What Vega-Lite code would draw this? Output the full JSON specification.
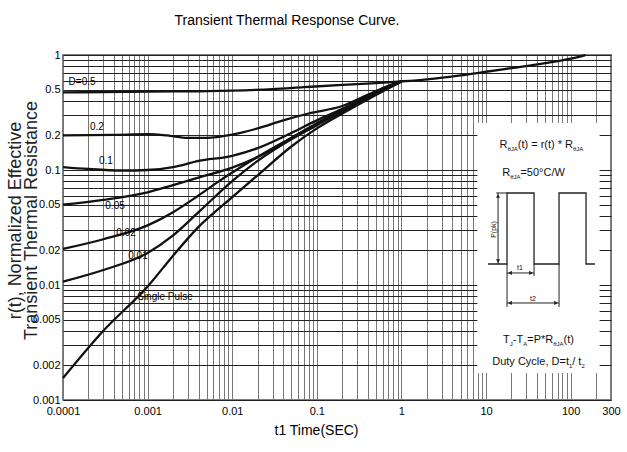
{
  "$schema": "https://vega.github.io/schema/vega-lite/v6.json",
  "width": 548,
  "height": 345,
  "autosize": "none",
  "padding": {"left": 63, "top": 55, "right": 16, "bottom": 52},
  "background": "white",
  "config": {
    "view": {"stroke": "#555", "strokeWidth": 1.5},
    "font": "Liberation Sans, Arial, sans-serif"
  },
  "title": {
    "text": "Transient Thermal Response Curve.",
    "font": "Liberation Sans, Arial, sans-serif",
    "fontSize": 14,
    "fontWeight": "normal",
    "color": "#000",
    "anchor": "middle",
    "dx": -50,
    "offset": 21
  },
  "datasets": {
    "curves": [
      {"c": "0.5", "x": 0.0001, "y": 0.473}, {"c": "0.5", "x": 0.0003, "y": 0.476}, {"c": "0.5", "x": 0.001, "y": 0.48}, {"c": "0.5", "x": 0.004, "y": 0.484}, {"c": "0.5", "x": 0.01, "y": 0.49}, {"c": "0.5", "x": 0.03, "y": 0.505}, {"c": "0.5", "x": 0.07, "y": 0.525}, {"c": "0.5", "x": 0.2, "y": 0.55}, {"c": "0.5", "x": 0.5, "y": 0.57}, {"c": "0.5", "x": 1, "y": 0.59}, {"c": "0.5", "x": 2, "y": 0.615}, {"c": "0.5", "x": 5, "y": 0.665}, {"c": "0.5", "x": 10, "y": 0.715}, {"c": "0.5", "x": 20, "y": 0.77}, {"c": "0.5", "x": 50, "y": 0.85}, {"c": "0.5", "x": 100, "y": 0.93}, {"c": "0.5", "x": 150, "y": 1.0},
      {"c": "0.2", "x": 0.0001, "y": 0.2}, {"c": "0.2", "x": 0.0004, "y": 0.202}, {"c": "0.2", "x": 0.001, "y": 0.205}, {"c": "0.2", "x": 0.0017, "y": 0.2}, {"c": "0.2", "x": 0.003, "y": 0.19}, {"c": "0.2", "x": 0.005, "y": 0.19}, {"c": "0.2", "x": 0.01, "y": 0.203}, {"c": "0.2", "x": 0.02, "y": 0.23}, {"c": "0.2", "x": 0.04, "y": 0.27}, {"c": "0.2", "x": 0.08, "y": 0.31}, {"c": "0.2", "x": 0.2, "y": 0.36}, {"c": "0.2", "x": 0.4, "y": 0.45}, {"c": "0.2", "x": 0.7, "y": 0.54}, {"c": "0.2", "x": 1, "y": 0.59},
      {"c": "0.1", "x": 0.0001, "y": 0.106}, {"c": "0.1", "x": 0.0002, "y": 0.102}, {"c": "0.1", "x": 0.0005, "y": 0.099}, {"c": "0.1", "x": 0.001, "y": 0.1}, {"c": "0.1", "x": 0.002, "y": 0.106}, {"c": "0.1", "x": 0.004, "y": 0.12}, {"c": "0.1", "x": 0.01, "y": 0.133}, {"c": "0.1", "x": 0.02, "y": 0.155}, {"c": "0.1", "x": 0.05, "y": 0.21}, {"c": "0.1", "x": 0.1, "y": 0.27}, {"c": "0.1", "x": 0.2, "y": 0.34}, {"c": "0.1", "x": 0.5, "y": 0.47}, {"c": "0.1", "x": 1, "y": 0.59},
      {"c": "0.05", "x": 0.0001, "y": 0.05}, {"c": "0.05", "x": 0.0003, "y": 0.055}, {"c": "0.05", "x": 0.001, "y": 0.064}, {"c": "0.05", "x": 0.002, "y": 0.074}, {"c": "0.05", "x": 0.004, "y": 0.086}, {"c": "0.05", "x": 0.01, "y": 0.105}, {"c": "0.05", "x": 0.02, "y": 0.13}, {"c": "0.05", "x": 0.05, "y": 0.19}, {"c": "0.05", "x": 0.1, "y": 0.255}, {"c": "0.05", "x": 0.2, "y": 0.33}, {"c": "0.05", "x": 0.5, "y": 0.465}, {"c": "0.05", "x": 1, "y": 0.59},
      {"c": "0.02", "x": 0.0001, "y": 0.0206}, {"c": "0.02", "x": 0.0003, "y": 0.025}, {"c": "0.02", "x": 0.001, "y": 0.033}, {"c": "0.02", "x": 0.002, "y": 0.043}, {"c": "0.02", "x": 0.004, "y": 0.06}, {"c": "0.02", "x": 0.007, "y": 0.08}, {"c": "0.02", "x": 0.01, "y": 0.095}, {"c": "0.02", "x": 0.02, "y": 0.13}, {"c": "0.02", "x": 0.05, "y": 0.19}, {"c": "0.02", "x": 0.1, "y": 0.25}, {"c": "0.02", "x": 0.2, "y": 0.325}, {"c": "0.02", "x": 0.5, "y": 0.46}, {"c": "0.02", "x": 1, "y": 0.59},
      {"c": "0.01", "x": 0.0001, "y": 0.0107}, {"c": "0.01", "x": 0.0003, "y": 0.0135}, {"c": "0.01", "x": 0.001, "y": 0.019}, {"c": "0.01", "x": 0.002, "y": 0.027}, {"c": "0.01", "x": 0.004, "y": 0.043}, {"c": "0.01", "x": 0.01, "y": 0.08}, {"c": "0.01", "x": 0.02, "y": 0.12}, {"c": "0.01", "x": 0.05, "y": 0.185}, {"c": "0.01", "x": 0.1, "y": 0.245}, {"c": "0.01", "x": 0.2, "y": 0.32}, {"c": "0.01", "x": 0.5, "y": 0.455}, {"c": "0.01", "x": 1, "y": 0.59},
      {"c": "single", "x": 0.0001, "y": 0.00155}, {"c": "single", "x": 0.0003, "y": 0.004}, {"c": "single", "x": 0.001, "y": 0.0097}, {"c": "single", "x": 0.002, "y": 0.018}, {"c": "single", "x": 0.004, "y": 0.032}, {"c": "single", "x": 0.01, "y": 0.058}, {"c": "single", "x": 0.02, "y": 0.09}, {"c": "single", "x": 0.05, "y": 0.16}, {"c": "single", "x": 0.1, "y": 0.23}, {"c": "single", "x": 0.2, "y": 0.31}, {"c": "single", "x": 0.5, "y": 0.45}, {"c": "single", "x": 1, "y": 0.59}
    ],
    "curveLabels": [
      {"s": "D=0.5", "x": 0.000168, "y": 0.582},
      {"s": "0.2", "x": 0.000252, "y": 0.2366},
      {"s": "0.1", "x": 0.000322, "y": 0.1198},
      {"s": "0.05", "x": 0.000412, "y": 0.0486},
      {"s": "0.02", "x": 0.000555, "y": 0.0283},
      {"s": "0.01", "x": 0.00077, "y": 0.01787},
      {"s": "Single Pulse", "x": 0.001606, "y": 0.00787}
    ],
    "box": [{"x": 7.9, "x2": 220, "y": 0.00172, "y2": 0.256}],
    "pulse": [
      {"i": 0, "x": 10.56, "y": 0.015228}, {"i": 1, "x": 17.71, "y": 0.015228}, {"i": 2, "x": 17.71, "y": 0.063096}, {"i": 3, "x": 36.93, "y": 0.063096}, {"i": 4, "x": 36.93, "y": 0.015228}, {"i": 5, "x": 72.94, "y": 0.015228}, {"i": 6, "x": 72.94, "y": 0.063096}, {"i": 7, "x": 152.1, "y": 0.063096}, {"i": 8, "x": 152.1, "y": 0.015228}, {"i": 9, "x": 194.3, "y": 0.015228}
    ],
    "vrules": [
      {"x": 17.71, "y": 0.015228, "y2": 0.006437},
      {"x": 36.93, "y": 0.015228, "y2": 0.011976},
      {"x": 72.94, "y": 0.015228, "y2": 0.006437},
      {"x": 13.87, "y": 0.063096, "y2": 0.015228}
    ],
    "hrules": [
      {"x": 17.71, "x2": 36.93, "y": 0.01272},
      {"x": 17.71, "x2": 72.94, "y": 0.006976},
      {"x": 13.2, "x2": 17.71, "y": 0.063096}
    ],
    "arrowUp": [{"x": 13.87, "y": 0.05942}],
    "arrowDown": [{"x": 13.87, "y": 0.01617}],
    "arrowLeft": [{"x": 19.21, "y": 0.01272}, {"x": 19.21, "y": 0.006976}],
    "arrowRight": [{"x": 34.03, "y": 0.01272}, {"x": 67.2, "y": 0.006976}],
    "insetMain": [
      {"s": "R", "x": 14.44, "y": 0.1553},
      {"s": "(t) = r(t) * R", "x": 23.70, "y": 0.1553},
      {"s": "R", "x": 15.54, "y": 0.08867},
      {"s": "=50°C/W", "x": 25.50, "y": 0.08867},
      {"s": "T", "x": 15.92, "y": 0.003131},
      {"s": "-T", "x": 20.74, "y": 0.003131},
      {"s": "=P*R", "x": 30.69, "y": 0.003131},
      {"s": "(t)", "x": 82.44, "y": 0.003131},
      {"s": "Duty Cycle, D=t", "x": 11.84, "y": 0.002015},
      {"s": "/ t", "x": 104.4, "y": 0.002015}
    ],
    "insetSub": [
      {"s": "θJA", "x": 17.90, "y": 0.14633},
      {"s": "θJA", "x": 106.7, "y": 0.14633},
      {"s": "θJA", "x": 19.27, "y": 0.08351},
      {"s": "J", "x": 19.11, "y": 0.002949},
      {"s": "A", "x": 27.53, "y": 0.002949},
      {"s": "θJA", "x": 62.28, "y": 0.002949},
      {"s": "1", "x": 95.48, "y": 0.001898},
      {"s": "2", "x": 134.2, "y": 0.001898}
    ],
    "tLabels": [
      {"s": "t1", "x": 25.23, "y": 0.013502},
      {"s": "t2", "x": 35.94, "y": 0.00726}
    ],
    "pLabel": [{"s": "P(pk)", "x": 12.27, "y": 0.03039}]
  },
  "encoding": {
    "x": {
      "field": "x",
      "type": "quantitative",
      "scale": {"type": "log", "domain": [0.0001, 300], "nice": false},
      "axis": {
        "title": "t1 Time(SEC)",
        "values": [0.0001,0.0002,0.0003,0.0004,0.0005,0.0006,0.0007,0.0008,0.0009,0.001,0.002,0.003,0.004,0.005,0.006,0.007,0.008,0.009,0.01,0.02,0.03,0.04,0.05,0.06,0.07,0.08,0.09,0.1,0.2,0.3,0.4,0.5,0.6,0.7,0.8,0.9,1,2,3,4,5,6,7,8,9,10,20,30,40,50,60,70,80,90,100,200,300],
        "format": "~g",
        "labelExpr": "indexof([0.0001,0.001,0.01,0.1,1,10,100,300], datum.value) >= 0 ? datum.label : ''",
        "grid": true,
        "gridColor": "#777",
        "gridWidth": 1,
        "gridOpacity": 1,
        "ticks": false,
        "domain": false,
        "labelFont": "Liberation Sans, Arial, sans-serif",
        "labelFontSize": 11,
        "labelColor": "#000",
        "labelPadding": 5,
        "labelOverlap": false,
        "labelBound": false,
        "labelFlush": false,
        "titleFont": "Liberation Sans, Arial, sans-serif",
        "titleFontSize": 14,
        "titleFontWeight": "normal",
        "titleColor": "#000",
        "titleX": 253,
        "titleY": 30,
        "titleBaseline": "middle",
        "titleAlign": "center"
      }
    },
    "y": {
      "field": "y",
      "type": "quantitative",
      "scale": {"type": "log", "domain": [0.001, 1], "nice": false},
      "axis": {
        "title": ["r(t), Normalized Effective", "Transient Thermal Resistance"],
        "values": [0.001,0.002,0.003,0.004,0.005,0.006,0.007,0.008,0.009,0.01,0.02,0.03,0.04,0.05,0.06,0.07,0.08,0.09,0.1,0.2,0.3,0.4,0.5,0.6,0.7,0.8,0.9,1],
        "format": "~g",
        "labelExpr": "indexof([0.001,0.002,0.005,0.01,0.02,0.05,0.1,0.2,0.5,1], datum.value) >= 0 ? datum.label : ''",
        "grid": true,
        "gridColor": "#222",
        "gridWidth": 1,
        "gridOpacity": 1,
        "ticks": false,
        "domain": false,
        "labelFont": "Liberation Sans, Arial, sans-serif",
        "labelFontSize": 11,
        "labelColor": "#000",
        "labelPadding": 3,
        "labelOverlap": false,
        "labelBound": false,
        "labelFlush": false,
        "titleFont": "Liberation Sans, Arial, sans-serif",
        "titleFontSize": 18,
        "titleFontWeight": "normal",
        "titleColor": "#222",
        "titleLineHeight": 16,
        "titleAngle": 270,
        "titleX": -48,
        "titleY": 165,
        "titleBaseline": "middle",
        "titleAlign": "center"
      }
    }
  },
  "layer": [
    {
      "data": {"name": "box"},
      "mark": {"type": "rect", "fill": "white", "stroke": null},
      "encoding": {"x2": {"field": "x2"}, "y2": {"field": "y2"}}
    },
    {
      "data": {"name": "curves"},
      "mark": {"type": "line", "color": "#111", "strokeWidth": 2.3, "interpolate": "monotone"},
      "encoding": {"detail": {"field": "c"}}
    },
    {
      "data": {"name": "curveLabels"},
      "mark": {"type": "text", "fontSize": 10, "color": "#000", "align": "center", "baseline": "middle", "font": "Liberation Sans, Arial, sans-serif"},
      "encoding": {"text": {"field": "s"}}
    },
    {
      "data": {"name": "pulse"},
      "mark": {"type": "line", "color": "#222", "strokeWidth": 1.3},
      "encoding": {"order": {"field": "i"}}
    },
    {
      "data": {"name": "vrules"},
      "mark": {"type": "rule", "color": "#222", "strokeWidth": 1},
      "encoding": {"y2": {"field": "y2"}}
    },
    {
      "data": {"name": "hrules"},
      "mark": {"type": "rule", "color": "#222", "strokeWidth": 1},
      "encoding": {"x2": {"field": "x2"}}
    },
    {
      "data": {"name": "arrowUp"},
      "mark": {"type": "point", "shape": "triangle-up", "filled": true, "color": "#222", "size": 18, "opacity": 1}
    },
    {
      "data": {"name": "arrowDown"},
      "mark": {"type": "point", "shape": "triangle-down", "filled": true, "color": "#222", "size": 18, "opacity": 1}
    },
    {
      "data": {"name": "arrowLeft"},
      "mark": {"type": "point", "shape": "triangle-left", "filled": true, "color": "#222", "size": 18, "opacity": 1}
    },
    {
      "data": {"name": "arrowRight"},
      "mark": {"type": "point", "shape": "triangle-right", "filled": true, "color": "#222", "size": 18, "opacity": 1}
    },
    {
      "data": {"name": "insetMain"},
      "mark": {"type": "text", "fontSize": 11, "color": "#111", "align": "left", "baseline": "alphabetic", "font": "Liberation Sans, Arial, sans-serif"},
      "encoding": {"text": {"field": "s"}}
    },
    {
      "data": {"name": "insetSub"},
      "mark": {"type": "text", "fontSize": 6, "color": "#111", "align": "left", "baseline": "alphabetic", "font": "Liberation Sans, Arial, sans-serif"},
      "encoding": {"text": {"field": "s"}}
    },
    {
      "data": {"name": "tLabels"},
      "mark": {"type": "text", "fontSize": 7, "color": "#111", "align": "center", "baseline": "alphabetic", "font": "Liberation Sans, Arial, sans-serif"},
      "encoding": {"text": {"field": "s"}}
    },
    {
      "data": {"name": "pLabel"},
      "mark": {"type": "text", "fontSize": 7, "color": "#111", "align": "center", "baseline": "middle", "angle": 270, "font": "Liberation Sans, Arial, sans-serif"},
      "encoding": {"text": {"field": "s"}}
    }
  ]
}
